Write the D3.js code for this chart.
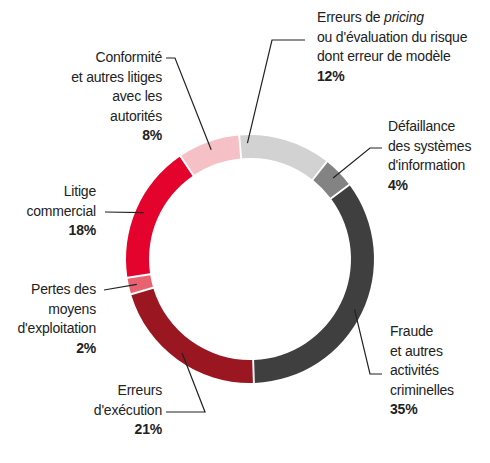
<!DOCTYPE html>
<html><head><meta charset="utf-8">
<script src="https://cdn.jsdelivr.net/npm/d3@7"></script>
<style>body{margin:0;background:#fff}text{font-family:"Liberation Sans",Arial,sans-serif;font-size:14px;fill:#222;letter-spacing:-0.2px}</style>
</head><body><div id="chart"></div>
<script>
const categories = ["Erreurs de pricing", "Défaillance des systèmes d'information", "Fraude et autres activités criminelles", "Erreurs d'exécution", "Pertes des moyens d'exploitation", "Litige commercial", "Conformité et autres litiges avec les autorités"];
const values = [12, 4, 35, 21, 2, 18, 8];
const colors = ["#d2d2d2", "#838383", "#3f3f3f", "#9a1621", "#e8626f", "#e3032d", "#f6c1c6"];
const labelLines = [
  [["Erreurs de ", "pricing"], "ou d'évaluation du risque", "dont erreur de modèle"],
  ["Défaillance", "des systèmes", "d'information"],
  ["Fraude", "et autres", "activités", "criminelles"],
  ["Erreurs", "d'exécution"],
  ["Pertes des", "moyens", "d'exploitation"],
  ["Litige", "commercial"],
  ["Conformité", "et autres litiges", "avec les", "autorités"]
];
// label layout: text anchor point, alignment, leader elbow points
const layout = [
  {x: 317, y: 22, anchor: "start", angle: -2, pts: [[272, 40], [305, 40]]},
  {x: 388, y: 131, anchor: "start", pts: [[370, 148], [382, 148]]},
  {x: 390, y: 336, anchor: "start", pts: [[370, 374], [382, 374]]},
  {x: 162, y: 395, anchor: "end", pts: [[205, 412], [166, 412]]},
  {x: 96, y: 294, anchor: "end", pts: [[104, 290]]},
  {x: 96, y: 196, anchor: "end", pts: [[105, 212]]},
  {x: 162, y: 62, anchor: "end", pts: [[175, 58], [166, 58]]}
];
const W = 490, H = 463, cx = 250, cy = 259, R = 124, r = 101;
const svg = d3.select("#chart").append("svg").attr("width", W).attr("height", H);
const start = -5 * Math.PI / 180;
const pie = d3.pie().sort(null).value(d => d).startAngle(start).endAngle(start + 2 * Math.PI).padAngle(0.012);
const arcs = pie(values);
const arc = d3.arc().innerRadius(r).outerRadius(R);
const g = svg.append("g").attr("transform", `translate(${cx},${cy})`);
g.selectAll("path").data(arcs).enter().append("path")
  .attr("d", arc).attr("fill", (d, i) => colors[i]);

arcs.forEach((a, i) => {
  const L = layout[i];
  const m = L.angle !== undefined ? a.startAngle + L.angle * Math.PI / 180 + 0.1 : (a.startAngle + a.endAngle) / 2;
  const p0 = [cx + Math.sin(m) * (R - 8), cy - Math.cos(m) * (R - 8)];
  const pts = [p0].concat(L.pts);
  svg.append("path").attr("d", d3.line()(pts)).attr("fill", "none").attr("stroke", "#222").attr("stroke-width", 1.2);
  const t = svg.append("g");
  const lines = labelLines[i];
  lines.forEach((ln, j) => {
    const tx = t.append("text").attr("x", L.x).attr("y", L.y + j * 19.5).attr("text-anchor", L.anchor);
    if (Array.isArray(ln)) { tx.append("tspan").text(ln[0]); tx.append("tspan").attr("font-style", "italic").text(ln[1]); }
    else tx.text(ln);
  });
  const j = lines.length;
  t.append("text").attr("x", L.x).attr("y", L.y + j * 19.5)
    .attr("text-anchor", L.anchor).attr("font-weight", "bold").text(values[i] + "%");
});
</script></body></html>
